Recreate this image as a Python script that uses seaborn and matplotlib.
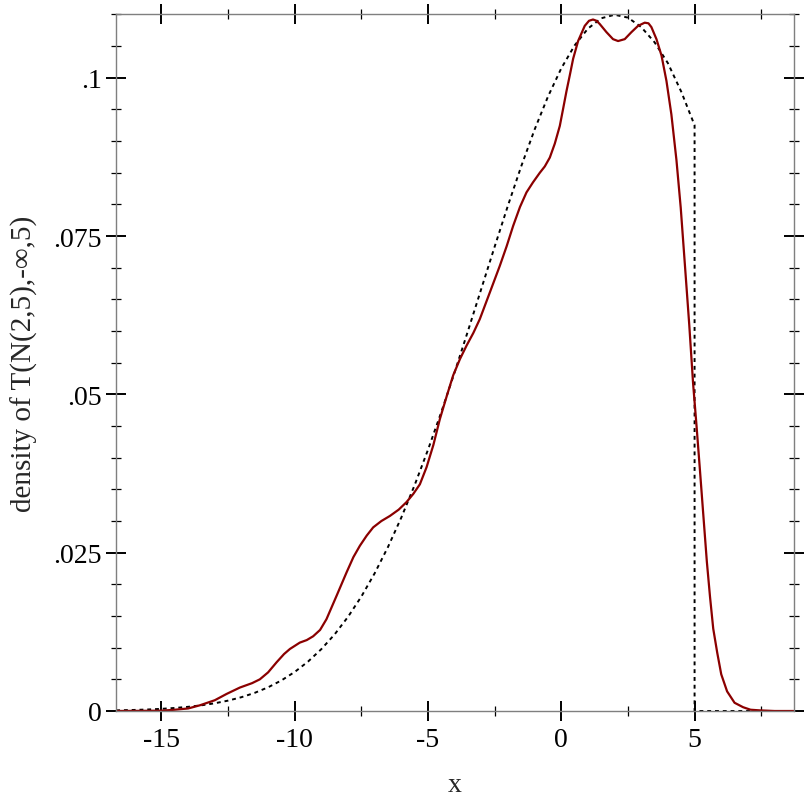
import numpy as np
import pandas as pd
import matplotlib
matplotlib.use("Agg")
import matplotlib.pyplot as plt
from matplotlib.ticker import MultipleLocator, FixedLocator
import seaborn as sns

# ---- data ----
dens_x = [-16.7, -16.5, -16.0, -15.5, -15.0, -14.5, -14.0, -13.5, -13.0, -12.5,
          -12.0, -11.5, -11.0, -10.5, -10.0, -9.5, -9.0, -8.5, -8.0, -7.5,
          -7.0, -6.5, -6.0, -5.5, -5.0, -4.5, -4.0, -3.5, -3.0, -2.5,
          -2.0, -1.5, -1.0, -0.5, 0.0, 0.5, 1.0, 1.5, 2.0, 2.5,
          3.0, 3.5, 4.0, 4.5, 5.0, 5.0, 8.73]
dens_y = [0.00010, 0.00012, 0.00017, 0.00024, 0.00034, 0.00048, 0.00066, 0.00090, 0.00122, 0.00164,
          0.00218, 0.00287, 0.00374, 0.00483, 0.00617, 0.00781, 0.00978, 0.01212, 0.01488, 0.01808,
          0.02176, 0.02592, 0.03057, 0.03570, 0.04127, 0.04723, 0.05352, 0.06004, 0.06669, 0.07333,
          0.07984, 0.08606, 0.09184, 0.09703, 0.10150, 0.10511, 0.10777, 0.10940, 0.10995, 0.10950,
          0.10800, 0.10560, 0.10230, 0.09780, 0.09250, 0.0, 0.0]

kde_x = [-16.7, -15.0, -14.5, -14.0, -13.56, -13.0, -12.555, -12.06, -11.6, -11.31,
         -11.0, -10.68, -10.4, -10.18, -9.81, -9.55, -9.31, -9.05, -8.81, -8.43,
         -8.055, -7.8, -7.556, -7.3, -7.057, -6.75, -6.431, -6.1, -5.805, -5.55,
         -5.306, -5.055, -4.8, -4.556, -4.3, -4.057, -3.8, -3.555, -3.3, -3.056,
         -2.681, -2.307, -2.05, -1.807, -1.55, -1.306, -1.06, -0.806, -0.619, -0.431,
         -0.244, -0.056, 0.068, 0.195, 0.319, 0.444, 0.63, 0.88, 1.04, 1.19,
         1.32, 1.44, 1.695, 1.94, 2.13, 2.38, 2.63, 2.88, 3.13, 3.27,
         3.38, 3.57, 3.76, 3.945, 4.13, 4.32, 4.48, 4.631, 4.80, 4.943,
         5.07, 5.193, 5.32, 5.46, 5.58, 5.70, 5.85, 6.0, 6.22, 6.5,
         6.82, 7.1, 7.44, 8.0, 8.73]
kde_y = [0.0, 0.00005, 0.0002, 0.0004, 0.0009, 0.0017, 0.0027, 0.0037, 0.0044, 0.0050,
         0.0061, 0.0077, 0.0090, 0.0098, 0.0108, 0.0112, 0.0118, 0.0128, 0.0145, 0.0182,
         0.0219, 0.0243, 0.0261, 0.0277, 0.0290, 0.0300, 0.0308, 0.0318, 0.0330, 0.0343,
         0.0358, 0.0385, 0.0420, 0.0461, 0.0497, 0.0530, 0.0556, 0.0577, 0.0597, 0.0619,
         0.0661, 0.0703, 0.0734, 0.0766, 0.0796, 0.0819, 0.0835, 0.0850, 0.0860, 0.0874,
         0.0896, 0.0924, 0.0951, 0.0979, 0.1004, 0.1030, 0.1058, 0.1082, 0.1090, 0.1092,
         0.1090, 0.1085, 0.1072, 0.1061, 0.1058, 0.1061, 0.1072, 0.1082, 0.1087, 0.1086,
         0.1080, 0.1061, 0.1035, 0.0995, 0.0942, 0.0870, 0.0795, 0.0708, 0.0610, 0.0518,
         0.0452, 0.0385, 0.0314, 0.0236, 0.0180, 0.0130, 0.0092, 0.0058, 0.0031, 0.0013,
         0.0006, 0.0002, 0.0001, 0.0, 0.0]

x_ticks = [-15, -10, -5, 0, 5]
x_tick_labels = ["-15", "-10", "-5", "0", "5"]
y_ticks = [0, 0.025, 0.05, 0.075, 0.1]
y_tick_labels = ["0", ".025", ".05", ".075", ".1"]
x_label = "x"
y_label = "density of T(N(2,5),-\u221e,5)"

# ---- plot ----
sns.set_style("white")
plt.rcParams['font.family'] = ['Liberation Serif', 'DejaVu Serif']

fig = plt.figure(figsize=(8.12, 8.12), dpi=100)
ax = fig.add_axes([116/812, 1 - 712/812, (794 - 116)/812, (712 - 15)/812])

df_dens = pd.DataFrame({"x": dens_x, "y": dens_y})
df_kde = pd.DataFrame({"x": kde_x, "y": kde_y})

sns.lineplot(data=df_dens, x="x", y="y", ax=ax, sort=False, estimator=None,
             color="black", linewidth=1.4, linestyle=(0, (2.0, 2.0)))
sns.lineplot(data=df_kde, x="x", y="y", ax=ax, sort=False, estimator=None,
             color="#8b0000", linewidth=1.6)

ax.set_xlim(-16.706, 8.73)
ax.set_ylim(0, 0.11007)

ax.xaxis.set_major_locator(FixedLocator(x_ticks))
ax.set_xticklabels(x_tick_labels)
ax.xaxis.set_minor_locator(MultipleLocator(2.5))
ax.yaxis.set_major_locator(FixedLocator(y_ticks))
ax.set_yticklabels(y_tick_labels)
ax.yaxis.set_minor_locator(MultipleLocator(0.005))

for s in ax.spines.values():
    s.set_color("#7f7f7f")
    s.set_linewidth(1.0)
    s.set_visible(True)

fs = 20
ax.tick_params(which="major", direction="inout", length=14.4, width=1.4,
               color="black", top=True, right=True, bottom=True, left=True,
               labelsize=fs, labelcolor="black")
ax.tick_params(axis="x", which="major", pad=4)
ax.tick_params(axis="y", which="major", pad=3)
ax.tick_params(which="minor", direction="inout", length=7.2, width=0.9,
               color="black", top=True, right=True, bottom=True, left=True)

ax.set_xlabel(x_label, fontsize=fs, labelpad=15)
ax.set_ylabel(y_label, fontsize=21, labelpad=11)
ax.grid(False)

fig.savefig("out.png", dpi=100, facecolor="white")
